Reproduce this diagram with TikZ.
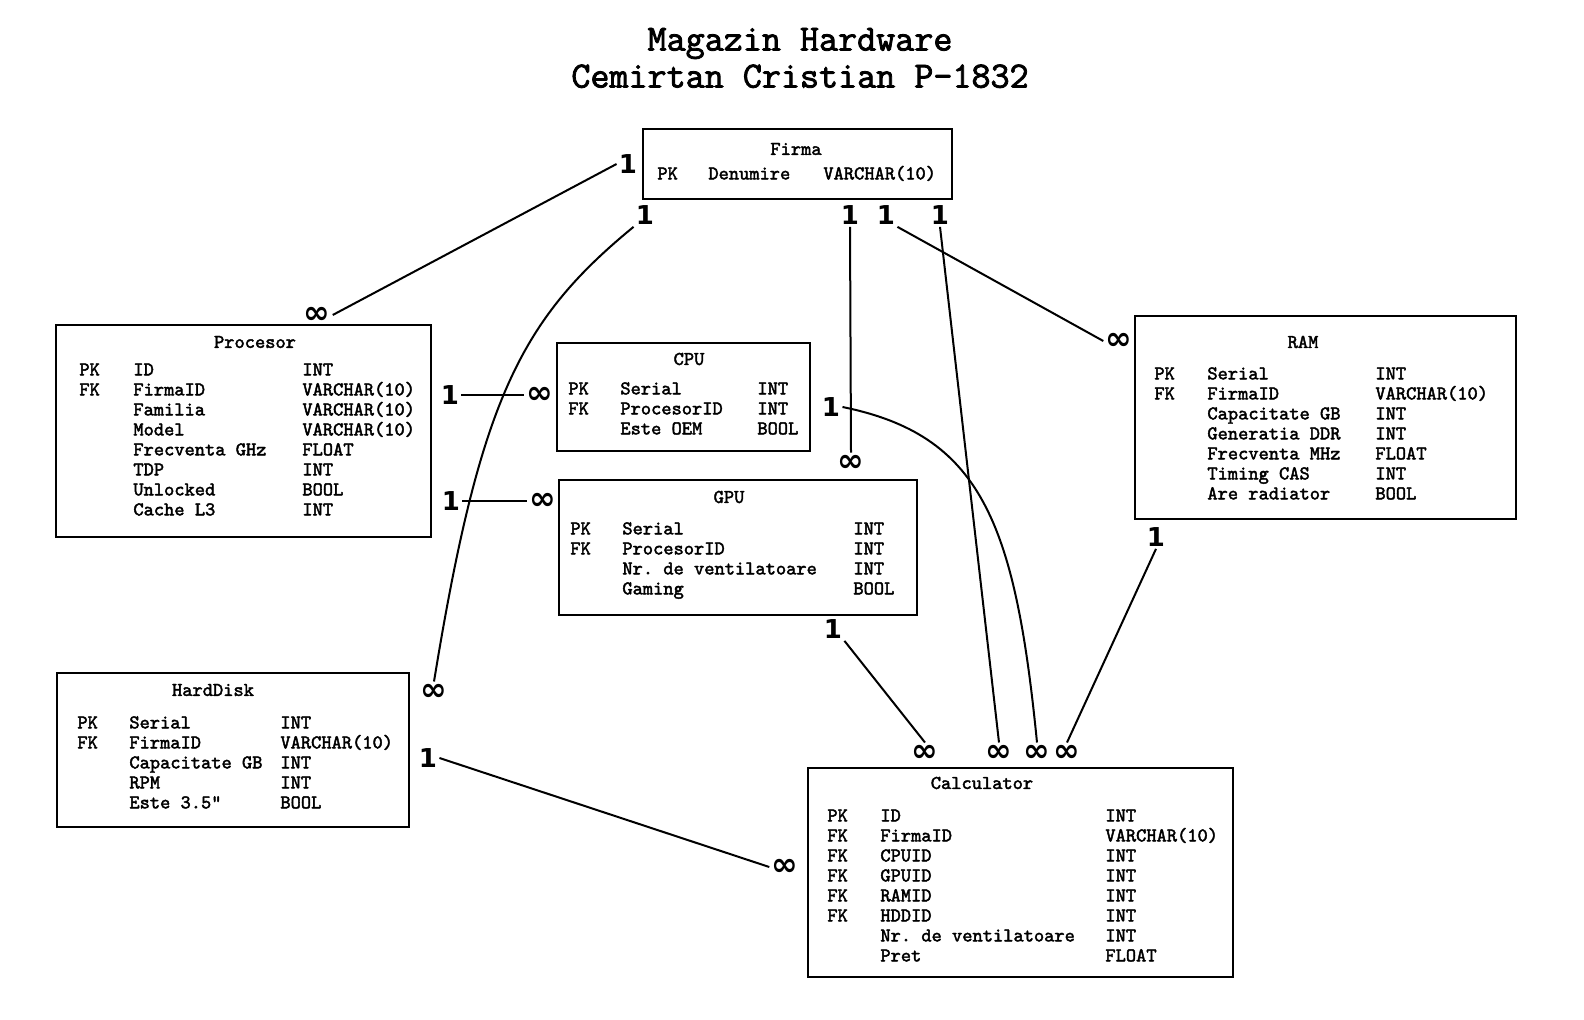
\documentclass[tikz,border=0pt]{standalone}
\usepackage{fontspec}
\setmonofont[AutoFakeBold=2.2]{Latin Modern Mono}
\newfontfamily\cardfont{DejaVu Sans}
\usepackage{array}

\newcommand\tblfont{\fontsize{9.75}{10}\selectfont\ttfamily\bfseries}

\begin{document}
\begin{tikzpicture}[x=0.5pt, y=-0.5pt]
    \tikzstyle{entity} = [rectangle, draw, line width=1.25pt, inner sep=0pt]
    \tikzstyle{etitle} = [font=\tblfont, inner sep=0pt]
    \tikzstyle{rows} = [font=\tblfont, anchor=north west, inner sep=0pt]
    \tikzstyle{one} = [font=\cardfont\bfseries\fontsize{13}{13}\selectfont, inner sep=1pt]
    \tikzstyle{many} = [font=\cardfont\bfseries\fontsize{16}{16}\selectfont, inner sep=1pt]
    \tikzstyle{rel} = [line width=1pt]
  \useasboundingbox (0,0) rectangle (1584,1020);
  % title
  \node[font=\ttfamily\bfseries\fontsize{18.5}{18.5}\selectfont, align=center] (title) at (800,58) {Magazin Hardware\\Cemirtan Cristian P-1832};
  % tables
  \node[entity, minimum width=154.5pt, minimum height=35pt] (firma) at (797.5,164) {};
  \node[etitle] (firmaT) at (796,149) {Firma};
  \node[rows] (firmaR) at (657,165) {\begin{tabular}{@{}p{25.5pt}@{}p{57.5pt}@{}l@{}}PK & Denumire & VARCHAR(10)\end{tabular}};
  \node[entity, minimum width=187.5pt, minimum height=106pt] (procesor) at (243.5,431) {};
  \node[etitle] (procesorT) at (255,342) {Procesor};
  \node[rows] (procesorR) at (79,361) {\begin{tabular}{@{}p{27pt}@{}p{84.5pt}@{}l@{}}
    PK & ID & INT\\ FK & FirmaID & VARCHAR(10)\\ & Familia & VARCHAR(10)\\ & Model & VARCHAR(10)\\
    & Frecventa GHz & FLOAT\\ & TDP & INT\\ & Unlocked & BOOL\\ & Cache L3 & INT\end{tabular}};
  \node[entity, minimum width=126.5pt, minimum height=54pt] (cpu) at (683.5,397) {};
  \node[etitle] (cpuT) at (689,359) {CPU};
  \node[rows] (cpuR) at (568,380) {\begin{tabular}{@{}p{26pt}@{}p{68.5pt}@{}l@{}}
    PK & Serial & INT\\ FK & ProcesorID & INT\\ & Este OEM & BOOL\end{tabular}};
  \node[entity, minimum width=179pt, minimum height=67.5pt] (gpu) at (738,547.5) {};
  \node[etitle] (gpuT) at (729,497) {GPU};
  \node[rows] (gpuR) at (570,520) {\begin{tabular}{@{}p{26pt}@{}p{115.5pt}@{}l@{}}
    PK & Serial & INT\\ FK & ProcesorID & INT\\ & Nr. de ventilatoare & INT\\ & Gaming & BOOL\end{tabular}};
  \node[entity, minimum width=190.5pt, minimum height=101.5pt] (ram) at (1325.5,417.5) {};
  \node[etitle] (ramT) at (1303,342) {RAM};
  \node[rows] (ramR) at (1154,365) {\begin{tabular}{@{}p{26.5pt}@{}p{84pt}@{}l@{}}
    PK & Serial & INT\\ FK & FirmaID & VARCHAR(10)\\ & Capacitate GB & INT\\ & Generatia DDR & INT\\
    & Frecventa MHz & FLOAT\\ & Timing CAS & INT\\ & Are radiator & BOOL\end{tabular}};
  \node[entity, minimum width=176pt, minimum height=77pt] (hdd) at (233,750) {};
  \node[etitle] (hddT) at (213,690) {HardDisk};
  \node[rows] (hddR) at (77,714) {\begin{tabular}{@{}p{26pt}@{}p{75.5pt}@{}l@{}}
    PK & Serial & INT\\ FK & FirmaID & VARCHAR(10)\\ & Capacitate GB & INT\\ & RPM & INT\\
    & Este 3.5" & BOOL\end{tabular}};
  \node[entity, minimum width=212.5pt, minimum height=104.5pt] (calc) at (1020.5,872.5) {};
  \node[etitle] (calcT) at (982,783) {Calculator};
  \node[rows] (calcR) at (827,807) {\begin{tabular}{@{}p{26.5pt}@{}p{112.5pt}@{}l@{}}
    PK & ID & INT\\ FK & FirmaID & VARCHAR(10)\\ FK & CPUID & INT\\ FK & GPUID & INT\\
    FK & RAMID & INT\\ FK & HDDID & INT\\ & Nr. de ventilatoare & INT\\ & Pret & FLOAT\end{tabular}};
  % cardinalities
  \node[one] (fP) at (628,164) {1};
  \node[many] (pF) at (317,315) {∞};
  \node[one] (fH) at (645,215) {1};
  \node[many] (hF) at (434,692) {∞};
  \node[one] (fG) at (850,215) {1};
  \node[many] (gF) at (851,463) {∞};
  \node[one] (fR) at (886,215) {1};
  \node[many] (rF) at (1119,341) {∞};
  \node[one] (fC) at (940,215) {1};
  \node[many] (cF) at (999,753) {∞};
  \node[one] (uC) at (831,407) {1};
  \node[many] (cU) at (1037,753) {∞};
  \node[one] (pU) at (450,395) {1};
  \node[many] (uP) at (540,395) {∞};
  \node[one] (pG) at (451,501) {1};
  \node[many] (gP) at (543,501) {∞};
  \node[one] (gC) at (833,629) {1};
  \node[many] (cG) at (925,753) {∞};
  \node[one] (rC) at (1156,537) {1};
  \node[many] (cR) at (1067,753) {∞};
  \node[one] (hC) at (428,758) {1};
  \node[many] (cH) at (785,867) {∞};
  % relations
  \draw[rel] (fP.west) -- (pF.east);
  \draw[rel] (fH.south west) .. controls (520,320) and (480,400) .. (hF.north);
  \draw[rel] (fG.south) -- (gF.north);
  \draw[rel] (fR.south east) -- (rF.west);
  \draw[rel] (fC.south) -- (cF.north);
  \draw[rel] (uC.east) .. controls (980,435) and (1015,520) .. (cU.north);
  \draw[rel] (pU.east) -- (uP.west);
  \draw[rel] (pG.east) -- (gP.west);
  \draw[rel] (gC.south east) -- (cG.north);
  \draw[rel] (rC.south) -- (cR.north);
  \draw[rel] (hC.east) -- (cH.west);
\end{tikzpicture}
\end{document}
